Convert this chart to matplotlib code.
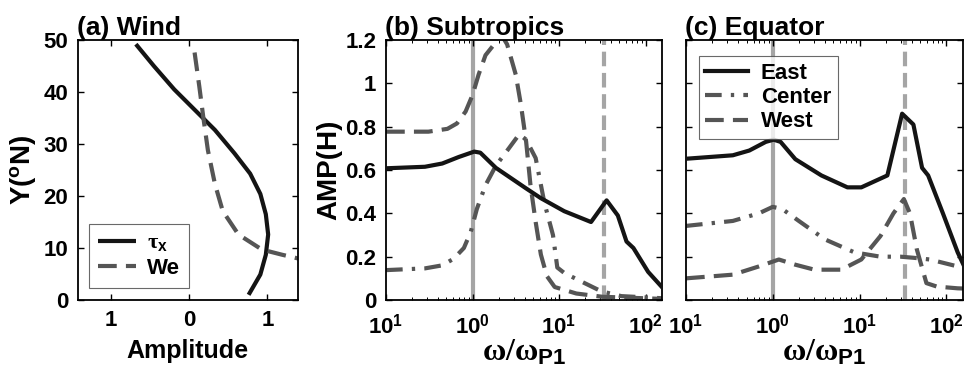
import numpy as np
import matplotlib
matplotlib.use("Agg")
from matplotlib import pyplot as plt
from matplotlib.ticker import FixedLocator, LogLocator, NullFormatter

plt.rcParams['font.family'] = ['Liberation Sans', 'DejaVu Sans']
plt.rcParams['font.weight'] = 'bold'
plt.rcParams['mathtext.fontset'] = 'custom'
plt.rcParams['mathtext.rm'] = 'Liberation Serif'
plt.rcParams['mathtext.it'] = 'Liberation Serif'
plt.rcParams['mathtext.bf'] = 'Liberation Sans:bold'

# (a) wind profiles: amplitude vs latitude
taux_amp = [-0.68, -0.45, -0.19, 0.07, 0.33, 0.58, 0.78, 0.91, 0.98, 1.01, 0.98, 0.91, 0.76]
taux_lat = [49.2, 45.0, 40.5, 36.6, 32.7, 28.2, 24.3, 20.4, 16.5, 12.6, 8.7, 4.9, 1.0]
we_amp = [0.07, 0.13, 0.18, 0.24, 0.33, 0.43, 0.63, 0.93, 1.19, 1.39, 1.60]
we_lat = [47.6, 41.1, 35.3, 28.8, 22.3, 17.1, 12.6, 9.7, 8.7, 8.0, 7.6]

# (b) subtropics: log10(omega/omega_P1) and AMP(H)
b_east_lx = [-1.0, -0.55, -0.35, -0.16, 0.02, 0.09, 0.27, 0.62, 0.79, 1.06, 1.37, 1.55, 1.68, 1.78, 1.86, 2.03, 2.2]
b_east = [0.608, 0.615, 0.63, 0.66, 0.685, 0.68, 0.61, 0.515, 0.47, 0.41, 0.36, 0.46, 0.39, 0.27, 0.24, 0.13, 0.055]
b_center_lx = [-1.0, -0.55, -0.35, -0.22, -0.10, -0.02, 0.05, 0.15, 0.27, 0.42, 0.54, 0.62, 0.73, 0.83, 0.93, 0.98, 1.06, 1.26, 1.49, 1.72, 2.2]
b_center = [0.138, 0.146, 0.16, 0.19, 0.24, 0.315, 0.42, 0.53, 0.62, 0.70, 0.765, 0.74, 0.655, 0.45, 0.30, 0.15, 0.125, 0.085, 0.04, 0.018, 0.008]
b_west_lx = [-1.0, -0.51, -0.29, -0.18, -0.08, 0.0, 0.07, 0.15, 0.27, 0.34, 0.40, 0.50, 0.56, 0.62, 0.67, 0.73, 0.79, 0.86, 0.95, 1.2, 1.5, 2.2]
b_west = [0.777, 0.777, 0.79, 0.815, 0.87, 0.946, 1.04, 1.13, 1.19, 1.22, 1.18, 1.04, 0.90, 0.73, 0.53, 0.36, 0.21, 0.11, 0.06, 0.03, 0.015, 0.005]

# (c) equator
c_east_lx = [-1.0, -0.46, -0.27, -0.08, 0.01, 0.09, 0.26, 0.56, 0.86, 1.02, 1.32, 1.49, 1.62, 1.72, 1.79, 1.96, 2.13, 2.2]
c_east = [0.652, 0.668, 0.69, 0.73, 0.74, 0.73, 0.65, 0.575, 0.52, 0.52, 0.575, 0.86, 0.81, 0.61, 0.575, 0.40, 0.22, 0.16]
c_center_lx = [-1.0, -0.46, -0.16, 0.0, 0.11, 0.30, 0.60, 0.94, 1.24, 1.47, 1.62, 1.81, 2.13, 2.2]
c_center = [0.342, 0.365, 0.40, 0.43, 0.42, 0.365, 0.28, 0.22, 0.20, 0.20, 0.195, 0.187, 0.155, 0.15]
c_west_lx = [-1.0, -0.46, -0.16, 0.07, 0.26, 0.48, 0.79, 1.02, 1.24, 1.39, 1.51, 1.58, 1.66, 1.77, 1.89, 2.13, 2.2]
c_west = [0.10, 0.117, 0.155, 0.187, 0.163, 0.14, 0.14, 0.187, 0.295, 0.40, 0.466, 0.40, 0.233, 0.078, 0.062, 0.054, 0.053]

x_ticks = [0.1, 1, 10, 100]
x_ticklabels = ['10$^{\\mathbf{1}}$', '10$^{\\mathbf{0}}$', '10$^{\\mathbf{1}}$', '10$^{\\mathbf{2}}$']
a_ticks = [-1, 0, 1]
a_ticklabels = ['1', '0', '1']

black = '#141414'
gray = '#555555'
light = '#a5a5a5'
dash = (4.5, 2.2)
dashdot = (4.0, 2.2, 0.8, 2.2)

fig = plt.figure(figsize=(9.66, 3.79), dpi=100)
axa = fig.add_axes([0.0807, 0.2084, 0.2277, 0.6860])
axb = fig.add_axes([0.3996, 0.2084, 0.2857, 0.6860])
axc = fig.add_axes([0.7101, 0.2084, 0.2867, 0.6860])

for ax in (axa, axb, axc):
    for s in ax.spines.values():
        s.set_linewidth(1.3)
    ax.tick_params(direction='in', top=True, right=True, labelsize=16, width=1.0, length=4, pad=7)
    ax.tick_params(which='minor', direction='in', top=True, right=True, width=0.7, length=2)

# panel a
axa.plot(taux_amp, taux_lat, color=black, lw=3, label=r'$\tau_{\mathbf{x}}$', solid_capstyle='butt')
axa.plot(we_amp, we_lat, color=gray, lw=3, dashes=dash, label='We')
axa.set_xlim(-1.42, 1.39)
axa.set_ylim(0, 50)
axa.set_yticks([0, 10, 20, 30, 40, 50])
axa.set_xticks(a_ticks)
axa.set_xticklabels(a_ticklabels)
axa.set_xlabel('Amplitude', fontsize=18, fontweight='bold', labelpad=6)
axa.set_ylabel(r'Y($^{\mathbf{o}}$N)', fontsize=20, fontweight='bold', labelpad=4)
axa.set_title('(a) Wind', loc='left', fontsize=19, fontweight='bold', pad=3, x=-0.005)
lega = axa.legend(loc='lower left', bbox_to_anchor=(0.03, 0.03), fontsize=16, frameon=True,
                  fancybox=False, edgecolor='#444444', handlelength=1.7, handletextpad=0.5,
                  borderpad=0.4, labelspacing=0.2, borderaxespad=0.2)
lega.get_frame().set_linewidth(0.8)

# panels b and c
def freq_panel(ax, ex, ey, cx, cy, wx, wy):
    ax.axvline(1, color=light, lw=3, zorder=1)
    ax.axvline(33, color=light, lw=3, dashes=(3.5, 1.6), zorder=1)
    ax.plot(10 ** np.array(ex), ey, color=black, lw=3, label='East', zorder=3)
    ax.plot(10 ** np.array(cx), cy, color=gray, lw=3, dashes=dashdot, label='Center', zorder=2)
    ax.plot(10 ** np.array(wx), wy, color=gray, lw=3, dashes=dash, label='West', zorder=2)
    ax.set_xscale('log')
    ax.set_xlim(0.1, 155)
    ax.set_ylim(0, 1.2)
    ax.set_yticks([0, 0.2, 0.4, 0.6, 0.8, 1.0, 1.2])
    ax.xaxis.set_major_locator(FixedLocator(x_ticks))
    ax.set_xticklabels(x_ticklabels)
    ax.xaxis.set_minor_locator(LogLocator(base=10, subs=np.arange(2, 10)))
    ax.xaxis.set_minor_formatter(NullFormatter())
    ax.tick_params(axis='x', pad=10)
    ax.set_xlabel(r'$\omega/\omega_{\mathbf{P1}}$', fontsize=23, labelpad=-1)

freq_panel(axb, b_east_lx, b_east, b_center_lx, b_center, b_west_lx, b_west)
axb.set_yticklabels(['0', '0.2', '0.4', '0.6', '0.8', '1', '1.2'])
axb.set_ylabel('AMP(H)', fontsize=20, fontweight='bold', labelpad=2)
axb.set_title('(b) Subtropics', loc='left', fontsize=19, fontweight='bold', pad=3, x=-0.005)

freq_panel(axc, c_east_lx, c_east, c_center_lx, c_center, c_west_lx, c_west)
axc.set_yticklabels([])
axc.set_title('(c) Equator', loc='left', fontsize=19, fontweight='bold', pad=3, x=-0.005)
legc = axc.legend(loc='upper left', bbox_to_anchor=(0.03, 0.955), fontsize=16, frameon=True,
                  fancybox=False, edgecolor='#444444', handlelength=1.9, handletextpad=0.6,
                  borderpad=0.3, labelspacing=0.15, borderaxespad=0.2)
legc.get_frame().set_linewidth(0.8)

fig.savefig('out.png', dpi=100)
